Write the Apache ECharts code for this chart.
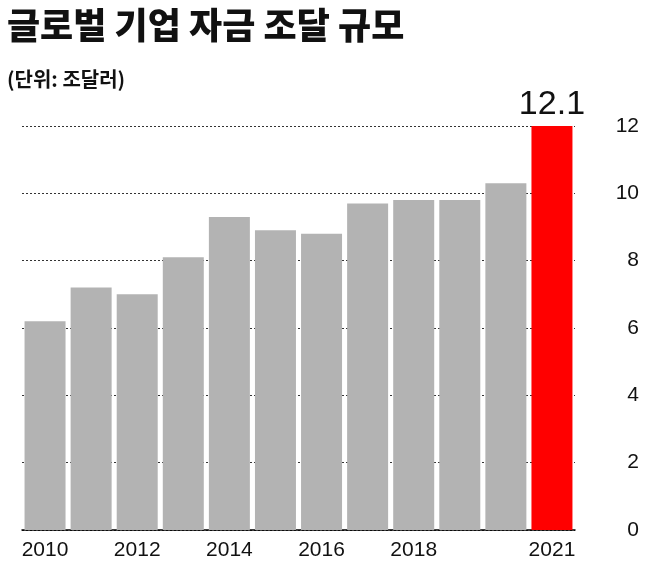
<!DOCTYPE html>
<html><head><meta charset="utf-8">
<script src="https://cdn.jsdelivr.net/npm/echarts@6/dist/echarts.min.js"></script>
<style>body{margin:0}#c{width:652px;height:567px}</style></head>
<body><div id="c"></div>
<script>
const years=['2010','2011','2012','2013','2014','2015','2016','2017','2018','2019','2020','2021'];
const values=[6.2,7.2,7.0,8.1,9.3,8.9,8.8,9.7,9.8,9.8,10.3,12.1];
const shownYears=['2010','2012','2014','2016','2018','2021'];
const yTicks=[0,2,4,6,8,10,12];
const F='"Noto Sans CJK KR", sans-serif';
const N='"Liberation Sans Narrow", "Liberation Sans", sans-serif';
const chart=echarts.init(document.getElementById('c'));
chart.setOption({
  animation:false,
  title:[{text:'글로벌 기업 자금 조달 규모',left:2,top:2,textStyle:{fontFamily:F,fontSize:36,fontWeight:900,color:'#111'}},
         {text:'(단위: 조달러)',left:2,top:64,textStyle:{fontFamily:F,fontSize:20,fontWeight:'bold',color:'#111'}}],
  grid:{left:22,right:77,top:126,bottom:37},
  xAxis:{type:'category',data:years,
    axisLine:{lineStyle:{color:'#000',width:1.5}},axisTick:{show:false},
    axisLabel:{interval:(i,v)=>shownYears.includes(v),formatter:v=>shownYears.includes(v)?v:'',
      color:'#111',fontSize:21,fontFamily:N,margin:10}},
  yAxis:{type:'value',position:'right',min:0,max:12,interval:2,
    axisLine:{show:false},axisTick:{show:false},
    splitLine:{lineStyle:{color:'#333',type:[2,2],width:1}},
    axisLabel:{color:'#111',fontSize:21,margin:64,align:'right',fontFamily:N,formatter:v=>yTicks.includes(v)?String(v):''}},
  series:[{type:'bar',barWidth:41,
    data:values.map((v,i)=>({value:v,itemStyle:{color:i===values.length-1?'#ff0000':'#b3b3b3'},
      label:i===values.length-1?{show:true,position:'top',formatter:'12.1',fontSize:34,color:'#111',fontFamily:N,distance:4}:{show:false}}))}]
});
</script></body></html>
